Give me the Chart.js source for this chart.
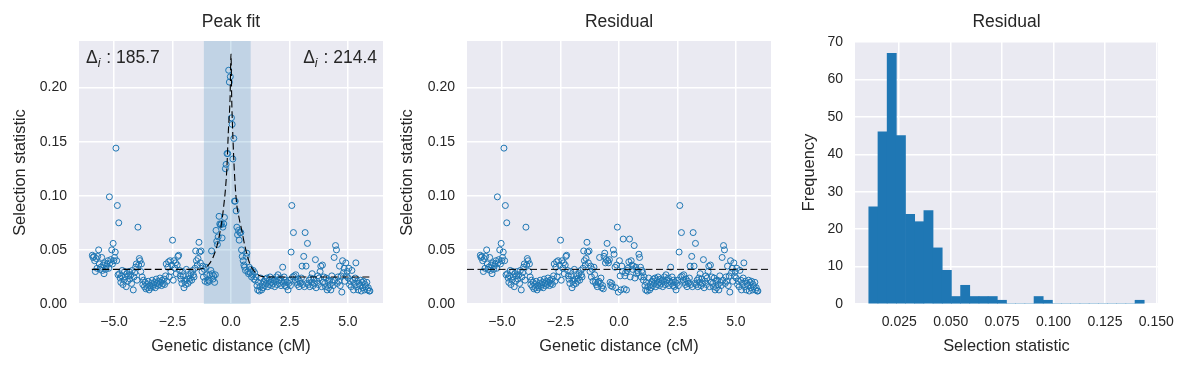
<!DOCTYPE html>
<html>
<head>
<meta charset="utf-8">
<script src="https://cdn.jsdelivr.net/npm/chart.js@4.4.0/dist/chart.umd.min.js"></script>
<style>
    html, body { margin: 0; padding: 0; background: #fff; }
    body { width: 1191px; height: 368px; position: relative; overflow: hidden; }
    .panel { position: absolute; top: 0; }
</style>
</head>
<body>
<div class="panel" style="left:0px"><canvas id="peak" width="395" height="368"></canvas></div>
<div class="panel" style="left:387px"><canvas id="resid" width="398" height="368"></canvas></div>
<div class="panel" style="left:789px"><canvas id="hist" width="402" height="368"></canvas></div>
<script>
// genetic distance (cM) of each window
const distance = [
    -5.93,-5.90,-5.86,-5.83,-5.80,-5.76,-5.73,-5.70,-5.66,-5.63,-5.60,-5.57,-5.53,-5.50,-5.47,-5.43,-5.40,-5.36,-5.33,-5.30,-5.26,-5.23,-5.20,-5.17,-5.14,-5.10,-5.07,-5.04,-5.01,
    -4.98,-4.95,-4.92,-4.89,-4.86,-4.83,-4.80,-4.77,-4.74,-4.71,-4.68,-4.65,-4.62,-4.58,-4.55,-4.52,-4.48,-4.45,-4.42,-4.38,-4.35,-4.32,-4.28,-4.25,-4.22,-4.18,-4.15,-4.12,-4.08,-4.05,-4.02,
    -3.98,-3.95,-3.92,-3.89,-3.86,-3.83,-3.80,-3.77,-3.74,-3.70,-3.67,-3.64,-3.60,-3.57,-3.54,-3.50,-3.47,-3.44,-3.40,-3.37,-3.34,-3.30,-3.27,-3.24,-3.20,-3.17,-3.14,-3.10,-3.07,-3.04,-3.01,
    -2.97,-2.94,-2.90,-2.87,-2.84,-2.80,-2.77,-2.74,-2.70,-2.67,-2.64,-2.60,-2.57,-2.53,-2.50,-2.47,-2.44,-2.40,-2.37,-2.34,-2.30,-2.27,-2.24,-2.20,-2.17,-2.14,-2.10,-2.07,-2.04,-2.01,
    -1.98,-1.94,-1.91,-1.88,-1.84,-1.81,-1.78,-1.74,-1.71,-1.68,-1.64,-1.61,-1.58,-1.54,-1.51,-1.48,-1.44,-1.41,-1.37,-1.34,-1.31,-1.28,-1.24,-1.21,-1.18,-1.14,-1.11,-1.07,-1.04,-1.01,
    -0.97,-0.93,-0.90,-0.86,-0.83,-0.80,-0.77,-0.74,-0.70,-0.67,-0.64,-0.61,-0.58,-0.55,-0.51,-0.48,-0.45,-0.41,-0.38,-0.35,-0.31,-0.28,-0.24,-0.21,-0.17,-0.14,-0.10,-0.07,-0.03,
    0.02,0.05,0.08,0.12,0.15,0.18,0.22,0.25,0.28,0.32,0.35,0.38,0.42,0.45,0.48,0.52,0.55,0.58,0.62,0.65,0.68,0.72,0.75,0.78,0.82,0.85,0.88,0.92,0.95,0.98,
    1.01,1.04,1.07,1.11,1.14,1.17,1.21,1.24,1.27,1.31,1.34,1.37,1.41,1.44,1.47,1.51,1.54,1.57,1.61,1.64,1.67,1.71,1.74,1.77,1.81,1.84,1.87,1.91,1.94,1.97,
    2.01,2.04,2.07,2.11,2.14,2.17,2.21,2.24,2.27,2.31,2.34,2.37,2.41,2.44,2.47,2.51,2.54,2.57,2.60,2.64,2.67,2.70,2.74,2.77,2.81,2.84,2.87,2.91,2.94,2.97,
    3.01,3.04,3.07,3.11,3.14,3.17,3.21,3.24,3.27,3.31,3.34,3.37,3.41,3.44,3.47,3.51,3.54,3.57,3.61,3.64,3.67,3.71,3.74,3.77,3.81,3.84,3.87,3.91,3.94,3.97,
    4.01,4.04,4.07,4.11,4.14,4.17,4.21,4.24,4.27,4.31,4.34,4.37,4.41,4.44,4.47,4.51,4.54,4.57,4.61,4.64,4.67,4.71,4.74,4.77,4.81,4.84,4.87,4.91,4.94,4.97,
    5.01,5.04,5.07,5.11,5.14,5.17,5.21,5.24,5.27,5.31,5.34,5.37,5.41,5.44,5.47,5.51,5.54,5.57,5.61,5.64,5.67,5.71,5.74,5.77,5.81,5.84,5.87,5.91,5.94
]

// observed selection statistic
const statistic = [
    0.045,0.043,0.044,0.040,0.030,0.042,0.033,0.044,0.050,0.037,0.032,0.034,0.043,0.031,0.036,0.028,0.038,0.032,0.035,0.037,0.040,0.033,0.099,0.038,0.041,0.050,0.037,0.056,0.040,
    0.043,0.048,0.144,0.040,0.091,0.027,0.075,0.028,0.024,0.020,0.026,0.031,0.018,0.022,0.030,0.025,0.016,0.028,0.021,0.026,0.030,0.023,0.027,0.019,0.031,0.013,0.025,0.029,0.034,0.037,0.022,
    0.071,0.036,0.042,0.040,0.030,0.037,0.025,0.018,0.022,0.016,0.020,0.014,0.018,0.015,0.021,0.013,0.017,0.015,0.019,0.022,0.016,0.018,0.020,0.015,0.023,0.019,0.017,0.021,0.018,0.024,0.020,
    0.017,0.022,0.019,0.023,0.018,0.026,0.037,0.021,0.034,0.039,0.025,0.040,0.030,0.036,0.059,0.022,0.040,0.033,0.038,0.028,0.036,0.044,0.045,0.031,0.026,0.023,0.019,0.030,0.026,0.015,
    0.021,0.018,0.032,0.023,0.019,0.026,0.021,0.024,0.028,0.022,0.031,0.027,0.025,0.033,0.049,0.040,0.036,0.042,0.057,0.048,0.038,0.049,0.030,0.035,0.025,0.032,0.021,0.034,0.027,0.020,
    0.022,0.021,0.027,0.031,0.049,0.028,0.023,0.026,0.020,0.027,0.068,0.058,0.055,0.062,0.081,0.074,0.073,0.074,0.061,0.071,0.074,0.080,0.125,0.129,0.139,0.139,0.216,0.205,0.210,
    0.172,0.166,0.134,0.153,0.095,0.095,0.086,0.071,0.064,0.068,0.059,0.066,0.066,0.050,0.044,0.040,0.036,0.034,0.031,0.044,0.047,0.030,0.028,0.034,0.029,0.032,0.025,0.027,0.031,0.023,
    0.029,0.022,0.025,0.017,0.013,0.020,0.012,0.016,0.024,0.013,0.018,0.015,0.021,0.017,0.023,0.019,0.024,0.016,0.022,0.018,0.025,0.020,0.017,0.023,0.019,0.022,0.016,0.021,0.025,0.018,
    0.027,0.022,0.019,0.024,0.017,0.021,0.034,0.019,0.025,0.017,0.022,0.016,0.020,0.013,0.019,0.022,0.017,0.048,0.091,0.025,0.066,0.026,0.022,0.027,0.020,0.018,0.023,0.016,0.021,0.019,
    0.024,0.035,0.018,0.044,0.016,0.066,0.035,0.019,0.056,0.018,0.022,0.016,0.024,0.020,0.028,0.017,0.023,0.019,0.041,0.015,0.021,0.026,0.018,0.024,0.030,0.035,0.016,0.036,0.020,0.025,
    0.019,0.016,0.024,0.013,0.021,0.015,0.022,0.018,0.013,0.026,0.020,0.017,0.043,0.022,0.054,0.050,0.019,0.025,0.021,0.035,0.017,0.026,0.011,0.040,0.029,0.033,0.021,0.038,0.026,0.030,
    0.024,0.033,0.018,0.021,0.016,0.031,0.022,0.013,0.019,0.024,0.038,0.016,0.021,0.013,0.019,0.017,0.022,0.012,0.020,0.015,0.021,0.013,0.018,0.016,0.020,0.013,0.015,0.012,0.012
]

// statistic after removing the fitted peak
const residual = [
    0.045,0.043,0.044,0.040,0.030,0.042,0.033,0.044,0.050,0.037,0.032,0.034,0.043,0.031,0.036,0.028,0.038,0.032,0.035,0.037,0.040,0.033,0.099,0.038,0.041,0.050,0.037,0.056,0.040,
    0.043,0.048,0.144,0.040,0.091,0.027,0.075,0.028,0.024,0.020,0.026,0.031,0.018,0.022,0.030,0.025,0.016,0.028,0.021,0.026,0.030,0.023,0.027,0.019,0.031,0.013,0.025,0.029,0.034,0.037,0.022,
    0.071,0.036,0.042,0.040,0.030,0.037,0.025,0.018,0.022,0.016,0.020,0.014,0.018,0.015,0.021,0.013,0.017,0.015,0.019,0.022,0.016,0.018,0.020,0.015,0.023,0.019,0.017,0.021,0.018,0.024,0.020,
    0.017,0.022,0.019,0.023,0.018,0.026,0.037,0.021,0.034,0.039,0.025,0.040,0.030,0.036,0.059,0.022,0.040,0.033,0.038,0.028,0.036,0.044,0.045,0.031,0.026,0.023,0.019,0.030,0.026,0.015,
    0.021,0.018,0.032,0.023,0.019,0.026,0.021,0.024,0.028,0.022,0.031,0.027,0.025,0.033,0.049,0.040,0.036,0.042,0.057,0.048,0.038,0.049,0.030,0.035,0.025,0.032,0.021,0.034,0.027,0.020,
    0.018,0.016,0.020,0.021,0.043,0.019,0.024,0.015,0.017,0.014,0.044,0.047,0.038,0.041,0.056,0.040,0.038,0.041,0.020,0.017,0.019,0.016,0.050,0.046,0.034,0.015,0.036,0.071,0.011,
    0.040,0.026,0.013,0.035,0.030,0.060,0.014,0.026,0.029,0.013,0.031,0.033,0.039,0.060,0.025,0.040,0.036,0.032,0.035,0.054,0.024,0.034,0.028,0.031,0.029,0.046,0.043,0.034,0.025,0.031,
    0.029,0.022,0.025,0.017,0.013,0.020,0.012,0.016,0.024,0.013,0.018,0.015,0.021,0.017,0.023,0.019,0.024,0.016,0.022,0.018,0.025,0.020,0.017,0.023,0.019,0.022,0.016,0.021,0.025,0.018,
    0.027,0.022,0.019,0.024,0.017,0.021,0.034,0.019,0.025,0.017,0.022,0.016,0.020,0.013,0.019,0.022,0.017,0.048,0.091,0.025,0.066,0.026,0.022,0.027,0.020,0.018,0.023,0.016,0.021,0.019,
    0.024,0.035,0.018,0.044,0.016,0.066,0.035,0.019,0.056,0.018,0.022,0.016,0.024,0.020,0.028,0.017,0.023,0.019,0.041,0.015,0.021,0.026,0.018,0.024,0.030,0.035,0.016,0.036,0.020,0.025,
    0.019,0.016,0.024,0.013,0.021,0.015,0.022,0.018,0.013,0.026,0.020,0.017,0.043,0.022,0.054,0.050,0.019,0.025,0.021,0.035,0.017,0.026,0.011,0.040,0.029,0.033,0.021,0.038,0.026,0.030,
    0.024,0.033,0.018,0.021,0.016,0.031,0.022,0.013,0.019,0.024,0.038,0.016,0.021,0.013,0.019,0.017,0.022,0.012,0.020,0.015,0.021,0.013,0.018,0.016,0.020,0.013,0.015,0.012,0.012
]

// fitted peak curve
const fitX = [-5.95, -1.5, -1.19, -0.97, -0.76, -0.54, -0.33, -0.18, -0.11, -0.04, 0.0, 0.03, 0.07, 0.15, 0.24, 0.35, 0.46, 0.6, 0.81, 1.1, 1.5, 5.95]
const fitY = [0.032, 0.032, 0.033, 0.036, 0.0435, 0.059, 0.087, 0.124, 0.161, 0.19, 0.231, 0.19, 0.161, 0.12, 0.093, 0.079, 0.068, 0.053, 0.037, 0.028, 0.025, 0.025]

// shaded peak window and residual baseline
const bandRange = [-1.16, 0.84]
const baseX = [-6.5, 6.5]
const baseY = [0.032, 0.032]
const deltaLeft = 185.7
const deltaRight = 214.4

// histogram of residuals (30 bins)
const binEdges = [0.0102, 0.01466, 0.01913, 0.02359, 0.02805, 0.03252, 0.03698, 0.04144, 0.04591, 0.05037,
    0.05483, 0.0593, 0.06376, 0.06822, 0.07269, 0.07715, 0.08161, 0.08608, 0.09054, 0.095,
    0.09947, 0.10393, 0.10839, 0.11286, 0.11732, 0.12178, 0.12625, 0.13071, 0.13517, 0.13964, 0.1441]
const binCounts = [26, 46, 67, 45, 24, 22, 25, 15, 9, 2, 5, 2, 2, 2, 1, 0, 0, 0, 2, 1, 0, 0, 0, 0, 0, 0, 0, 0, 0, 1]


const TEXT = '#262626'
const BG = '#EAEAF2'
const C0 = '#1f77b4'
const FONT = '"Liberation Sans", Arial, sans-serif'

Chart.defaults.font.family = FONT
Chart.defaults.color = TEXT
Chart.defaults.animation = false

const fmtNum = (v, d) => (v < 0 ? '\u2212' : '') + Math.abs(v).toFixed(d)

// seaborn style background
const bgPlugin = {
    id: 'bg',
    beforeDraw: (chart) => {
        const {ctx, chartArea: a} = chart
        ctx.save()
        ctx.fillStyle = BG
        ctx.fillRect(a.left, a.top, a.right - a.left, a.bottom - a.top)
        ctx.restore()
    }
}

const bandPlugin = {
    id: 'band',
    beforeDatasetsDraw: (chart) => {
        const {ctx, chartArea: a, scales} = chart
        const x0 = scales.x.getPixelForValue(bandRange[0])
        const x1 = scales.x.getPixelForValue(bandRange[1])
        ctx.save()
        ctx.fillStyle = 'rgba(31,119,180,0.2)'
        ctx.fillRect(x0, a.top, x1 - x0, a.bottom - a.top)
        ctx.restore()
    }
}

const drawDelta = (ctx, x, y, value, alignRight) => {
    const big = `17.5px ${FONT}`
    const small = `italic 12.5px ${FONT}`
    const rest = ' : ' + value.toFixed(1)
    ctx.font = big
    const w1 = ctx.measureText('\u0394').width
    const w3 = ctx.measureText(rest).width
    ctx.font = small
    const w2 = ctx.measureText('i').width + 1
    let cx = alignRight ? x - (w1 + w2 + w3) : x
    ctx.fillStyle = TEXT
    ctx.textBaseline = 'alphabetic'
    ctx.textAlign = 'left'
    ctx.font = big
    ctx.fillText('\u0394', cx, y)
    cx += w1
    ctx.font = small
    ctx.fillText('i', cx, y + 4)
    cx += w2
    ctx.font = big
    ctx.fillText(rest, cx, y)
}

const deltaPlugin = {
    id: 'delta',
    afterDraw: (chart) => {
        const {ctx, chartArea: a} = chart
        ctx.save()
        drawDelta(ctx, a.left + 7, a.top + 22, deltaLeft, false)
        drawDelta(ctx, a.right - 6, a.top + 22, deltaRight, true)
        ctx.restore()
    }
}

const gridOpts = {color: '#ffffff', lineWidth: 1.5, drawTicks: false}

const makeScales = (yWidth, xTitle, yTitle, xOpts, yOpts) => ({
    x: Object.assign({
        type: 'linear',
        border: {display: false},
        grid: gridOpts,
        title: {display: true, text: xTitle, font: {size: 16.4}, padding: {top: 0, bottom: 11.5}},
        afterFit: (s) => { s.height = 64 }
    }, xOpts),
    y: Object.assign({
        type: 'linear',
        border: {display: false},
        grid: gridOpts,
        title: {display: true, text: yTitle, font: {size: 16.4}, padding: {top: 11, bottom: 0}},
        afterFit: (s) => { s.width = yWidth }
    }, yOpts)
})

const distTicks = {stepSize: 2.5, includeBounds: false, padding: 10, font: {size: 14}, callback: (v) => fmtNum(v, 1)}
const statTicks = {stepSize: 0.05, includeBounds: false, padding: 12, font: {size: 14}, callback: (v) => v.toFixed(2)}

const titleOpts = (text) => ({
    display: true, text: text, fullSize: false, color: TEXT,
    font: {size: 17.5, weight: 'normal'}, padding: {top: 12, bottom: 8}
})

const scatterSet = (ys) => ({
    type: 'scatter',
    data: distance.map((x, i) => ({x: x, y: ys[i]})),
    pointRadius: 3,
    pointBorderWidth: 1,
    borderColor: C0,
    backgroundColor: 'rgba(0,0,0,0)',
    order: 1
})

// panel 1: peak fit
new Chart(document.getElementById('peak'), {
    type: 'scatter',
    data: {
        datasets: [
            scatterSet(statistic),
            {
                type: 'line',
                data: fitX.map((x, i) => ({x: x, y: fitY[i]})),
                borderColor: '#000',
                borderWidth: 1.1,
                borderDash: [7, 3.5],
                pointRadius: 0,
                fill: false,
                cubicInterpolationMode: 'monotone',
                order: 0
            }
        ]
    },
    options: {
        responsive: false,
        events: [],
        layout: {padding: {right: 12}},
        plugins: {legend: {display: false}, tooltip: {enabled: false}, title: titleOpts('Peak fit')},
        scales: makeScales(79, 'Genetic distance (cM)', 'Selection statistic',
            {min: -6.5, max: 6.5, ticks: distTicks},
            {min: 0, max: 0.243, ticks: statTicks})
    },
    plugins: [bgPlugin, bandPlugin, deltaPlugin]
})

// panel 2: residual scatter
new Chart(document.getElementById('resid'), {
    type: 'scatter',
    data: {
        datasets: [
            scatterSet(residual),
            {
                type: 'line',
                data: baseX.map((x, i) => ({x: x, y: baseY[i]})),
                borderColor: '#000',
                borderWidth: 1,
                borderDash: [7, 3.5],
                pointRadius: 0,
                fill: false,
                order: 0
            }
        ]
    },
    options: {
        responsive: false,
        events: [],
        layout: {padding: {right: 14}},
        plugins: {legend: {display: false}, tooltip: {enabled: false}, title: titleOpts('Residual')},
        scales: makeScales(80, 'Genetic distance (cM)', 'Selection statistic',
            {min: -6.5, max: 6.5, ticks: distTicks},
            {min: 0, max: 0.243, ticks: statTicks})
    },
    plugins: [bgPlugin]
})

// panel 3: residual histogram
new Chart(document.getElementById('hist'), {
    type: 'bar',
    data: {
        datasets: [{
            data: binCounts.map((c, i) => ({x: (binEdges[i] + binEdges[i + 1]) / 2, y: c})),
            backgroundColor: C0,
            borderWidth: 0,
            barPercentage: 1,
            categoryPercentage: 1
        }]
    },
    options: {
        responsive: false,
        events: [],
        layout: {padding: {right: 33}},
        plugins: {legend: {display: false}, tooltip: {enabled: false}, title: titleOpts('Residual')},
        scales: makeScales(66, 'Selection statistic', 'Frequency',
            {min: 0.0035, max: 0.1508, offset: false, grid: Object.assign({offset: false}, gridOpts),
             ticks: {stepSize: 0.025, includeBounds: false, padding: 10, font: {size: 14}, callback: (v) => v.toFixed(3)}},
            {min: 0, max: 70.3, ticks: {stepSize: 10, includeBounds: false, padding: 12, font: {size: 14}, callback: (v) => String(v)}})
    },
    plugins: [bgPlugin]
})
</script>
</body>
</html>
